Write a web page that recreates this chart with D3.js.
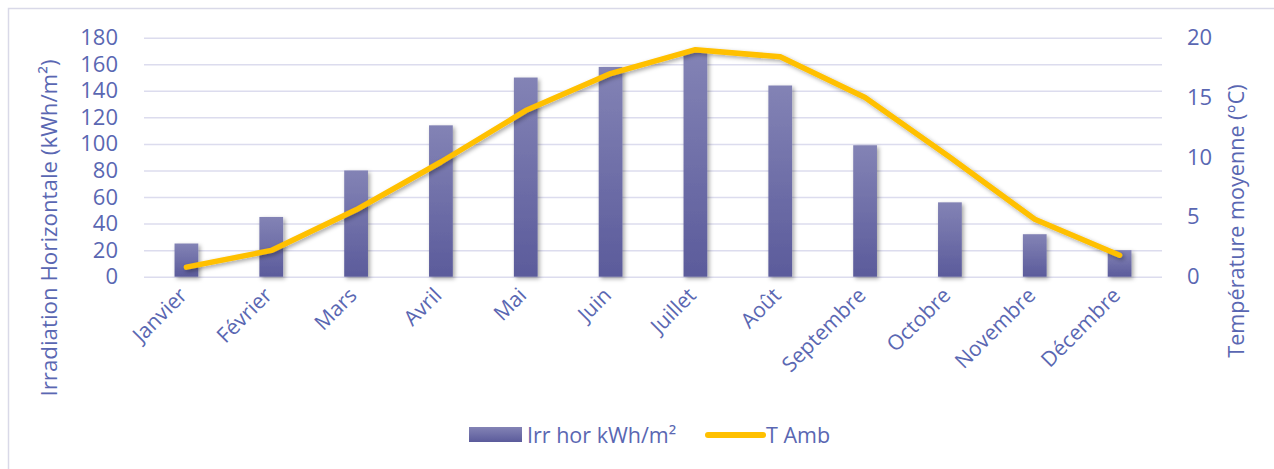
<!DOCTYPE html>
<html>
<head>
<meta charset="utf-8">
<script src="https://cdn.jsdelivr.net/npm/d3@7"></script>
<style>
  body { margin: 0; background: #fff; }
  svg { display: block; font-family: "Open Sans", sans-serif; }
</style>
</head>
<body>
<script>
const months = ["Janvier", "Février", "Mars", "Avril", "Mai", "Juin", "Juillet", "Août", "Septembre", "Octobre", "Novembre", "Décembre"];
const irradiation = [25, 45, 80, 114, 150, 158, 169, 144, 99, 56, 32, 20];
const temperature = [0.8, 2.2, 5.6, 9.6, 13.9, 17.0, 19.0, 18.4, 15.0, 10.0, 4.8, 1.8];
const leftTicks = [0, 20, 40, 60, 80, 100, 120, 140, 160, 180];
const rightTicks = [0, 5, 10, 15, 20];

const width = 1274, height = 469;
const marginLeft = 144, marginRight = 112, marginTop = 37.7, marginBottom = 192.3;
const textColor = "#5a67b2";

const x = d3.scaleBand()
    .domain(months)
    .range([marginLeft, width - marginRight])
    .paddingInner(0.72)
    .paddingOuter(0.36);

const yL = d3.scaleLinear()
    .domain([0, 180])
    .range([height - marginBottom, marginTop]);

const yR = d3.scaleLinear()
    .domain([0, 20])
    .range([height - marginBottom, marginTop]);

const svg = d3.select("body").append("svg")
    .attr("width", width)
    .attr("height", height);

const defs = svg.append("defs");
const grad = defs.append("linearGradient")
    .attr("id", "barGrad")
    .attr("x1", 0).attr("y1", 0).attr("x2", 0).attr("y2", 1);
grad.append("stop").attr("offset", "0%").attr("stop-color", "#8383b5");
grad.append("stop").attr("offset", "100%").attr("stop-color", "#5b5b9b");

const shadow = defs.append("filter")
    .attr("id", "shadow")
    .attr("x", "-50%").attr("y", "-50%").attr("width", "200%").attr("height", "200%");
shadow.append("feDropShadow")
    .attr("dx", 2).attr("dy", 2)
    .attr("stdDeviation", 2)
    .attr("flood-color", "#000")
    .attr("flood-opacity", 0.35);

// chart border (only top and left visible)
svg.append("rect")
    .attr("x", 8.5).attr("y", 8.5)
    .attr("width", width + 20).attr("height", height + 20)
    .attr("fill", "none")
    .attr("stroke", "#d9d9e8")
    .attr("stroke-width", 1.5);

// gridlines
svg.append("g")
    .attr("transform", `translate(${marginLeft},0)`)
    .call(d3.axisLeft(yL).tickValues(leftTicks).tickSize(-(width - marginLeft - marginRight)).tickFormat(""))
    .call(g => g.select(".domain").remove())
    .call(g => g.selectAll(".tick line").attr("stroke", "#dcdcee").attr("stroke-width", 1.5));

// left axis
svg.append("g")
    .attr("transform", `translate(${marginLeft},0)`)
    .call(d3.axisLeft(yL).tickValues(leftTicks).tickSize(0).tickPadding(26))
    .call(g => g.select(".domain").remove())
    .call(g => g.selectAll("text")
        .attr("fill", textColor)
        .attr("font-size", 22)
        .attr("font-family", "Open Sans"));

// right axis
svg.append("g")
    .attr("transform", `translate(${width - marginRight},0)`)
    .call(d3.axisRight(yR).tickValues(rightTicks).tickSize(0).tickPadding(25))
    .call(g => g.select(".domain").remove())
    .call(g => g.selectAll("text")
        .attr("fill", textColor)
        .attr("font-size", 22)
        .attr("font-family", "Open Sans"));

// x axis labels
svg.append("g")
    .attr("transform", `translate(0,${height - marginBottom})`)
    .call(d3.axisBottom(x).tickSize(0).tickPadding(0))
    .call(g => g.select(".domain").remove())
    .call(g => g.selectAll("text")
        .attr("fill", textColor)
        .attr("font-size", 21)
        .attr("font-family", "Open Sans")
        .attr("text-anchor", "end")
        .attr("dy", 0)
        .attr("y", 0)
        .attr("transform", "translate(2,20) rotate(-45)"));

// bars
svg.append("g")
    .selectAll("rect")
    .data(months)
    .join("rect")
    .attr("x", d => x(d))
    .attr("y", (d, i) => yL(irradiation[i]))
    .attr("width", x.bandwidth())
    .attr("height", (d, i) => yL(0) - yL(irradiation[i]))
    .attr("fill", "url(#barGrad)")
    .attr("filter", "url(#shadow)");

// temperature line
svg.append("path")
    .datum(temperature)
    .attr("fill", "none")
    .attr("stroke", "#ffc000")
    .attr("stroke-width", 5.5)
    .attr("stroke-linecap", "round")
    .attr("stroke-linejoin", "round")
    .attr("filter", "url(#shadow)")
    .attr("d", d3.line()
        .x((d, i) => x(months[i]) + x.bandwidth() / 2)
        .y(d => yR(d)));

// axis titles
svg.append("text")
    .attr("transform", `translate(57,228) rotate(-90)`)
    .attr("text-anchor", "middle")
    .attr("fill", textColor)
    .attr("font-size", 22.3)
    .text("Irradiation Horizontale (kWh/m²)");

svg.append("text")
    .attr("transform", `translate(1244,221) rotate(-90)`)
    .attr("text-anchor", "middle")
    .attr("fill", textColor)
    .attr("font-size", 21.6)
    .text("Température moyenne (°C)");

// legend
const legend = svg.append("g").attr("font-size", 21.5).attr("fill", textColor);
legend.append("rect")
    .attr("x", 469).attr("y", 427)
    .attr("width", 53).attr("height", 15)
    .attr("fill", "url(#barGrad)");
legend.append("text")
    .attr("x", 527).attr("y", 443)
    .text("Irr hor kWh/m²");
legend.append("line")
    .attr("x1", 708).attr("x2", 763)
    .attr("y1", 435).attr("y2", 435)
    .attr("stroke", "#ffc000")
    .attr("stroke-width", 6)
    .attr("stroke-linecap", "round");
legend.append("text")
    .attr("x", 766).attr("y", 443)
    .text("T Amb");
</script>
</body>
</html>
